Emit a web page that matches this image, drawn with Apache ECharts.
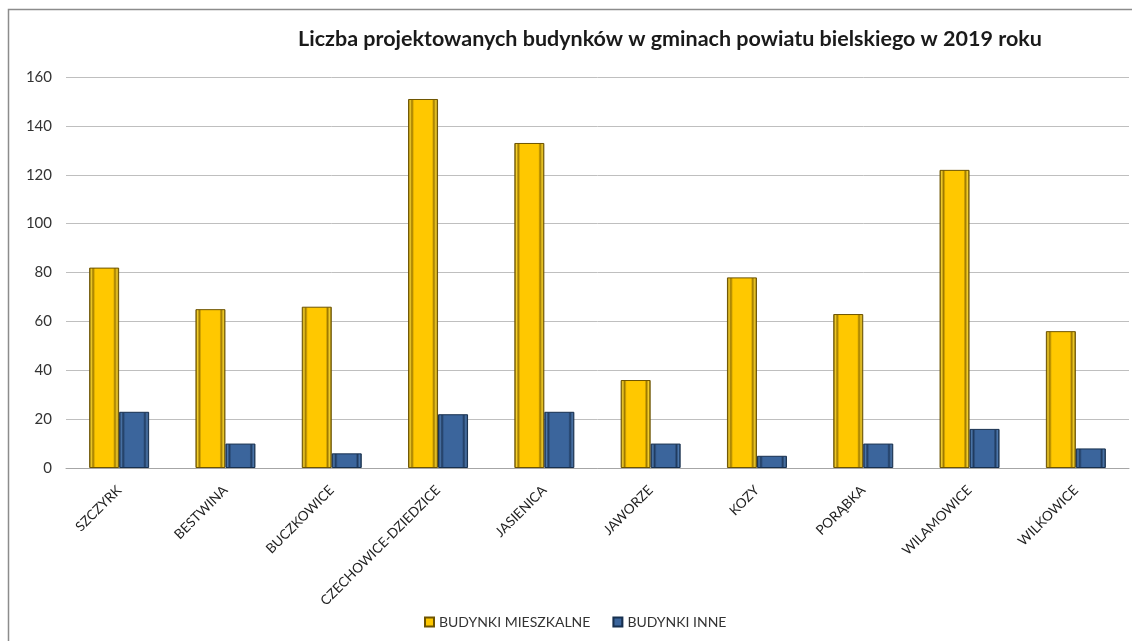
<!DOCTYPE html>
<html>
<head>
<meta charset="utf-8">
<script src="https://cdn.jsdelivr.net/npm/echarts@6/dist/echarts.min.js"></script>
<style>
html,body{margin:0;padding:0;background:#fff;overflow:hidden;}
#c{width:1132px;height:641px;}
</style>
</head>
<body>
<div id="c"></div>
<script>
const categories = ['SZCZYRK','BESTWINA','BUCZKOWICE','CZECHOWICE-DZIEDZICE','JASIENICA','JAWORZE','KOZY','PORĄBKA','WILAMOWICE','WILKOWICE'];
const mieszkalne = [82, 65, 66, 151, 133, 36, 78, 63, 122, 56];
const inne = [23, 10, 6, 22, 23, 10, 5, 10, 16, 8];
const seriesNames = ['BUDYNKI MIESZKALNE', 'BUDYNKI INNE'];
const yTicks = {min: 0, max: 160, interval: 20};
const titleText = 'Liczba projektowanych budynków w gminach powiatu bielskiego w 2019 roku';

function bevel(dark, mid, light, edge) {
  return new echarts.graphic.LinearGradient(0, 0, 1, 0, [
    {offset: 0, color: edge},
    {offset: 0.07, color: light},
    {offset: 0.13, color: dark},
    {offset: 0.2, color: mid},
    {offset: 0.8, color: mid},
    {offset: 0.86, color: dark},
    {offset: 0.93, color: light},
    {offset: 1, color: edge}
  ]);
}

const chart = echarts.init(document.getElementById('c'), null, {renderer: 'canvas'});
chart.setOption({
  animation: false,
  backgroundColor: '#ffffff',
  graphic: [{
    type: 'rect', left: 6, top: 7, z: -1,
    shape: {width: 1160, height: 660},
    style: {fill: 'none', stroke: '#8c8c8c', lineWidth: 1.5}
  }],
  title: {
    text: titleText,
    left: 665, top: 23, textAlign: 'center',
    textStyle: {fontFamily: 'Lato', fontWeight: 'bold', fontSize: 21.5, color: '#1a1a1a'}
  },
  legend: {
    data: seriesNames,
    left: 419, top: 610,
    itemWidth: 9, itemHeight: 9, itemGap: 22, icon: 'rect',
    textStyle: {fontFamily: 'Lato', fontSize: 14, color: '#333'}
  },
  grid: {left: 66, right: 3, top: 77, bottom: 173},
  xAxis: {
    type: 'category',
    data: categories,
    axisLine: {lineStyle: {color: '#a6a6a6', width: 1}},
    axisTick: {show: false},
    axisLabel: {rotate: 45, margin: 20, fontFamily: 'Lato', fontSize: 13.5, color: '#222', interval: 0}
  },
  yAxis: {
    type: 'value',
    min: yTicks.min, max: yTicks.max, interval: yTicks.interval,
    axisLine: {show: false},
    axisTick: {show: false},
    splitLine: {lineStyle: {color: '#bfbfbf', width: 1}},
    axisLabel: {margin: 14, fontFamily: 'Lato', fontSize: 15, color: '#333'}
  },
  series: [{
    name: seriesNames[0],
    type: 'bar',
    data: mieszkalne,
    barWidth: 30,
    barGap: '0%',
    itemStyle: {
      color: bevel('#9c7800', '#ffc800', '#f5cf2a', '#5e4800'),
      borderColor: '#6e5400', borderWidth: 1
    }
  }, {
    name: seriesNames[1],
    type: 'bar',
    data: inne,
    barWidth: 30,
    barGap: '0%',
    itemStyle: {
      color: bevel('#1f3a5e', '#3b659c', '#4d78ad', '#14263f'),
      borderColor: '#17304f', borderWidth: 1
    }
  }]
});
</script>
</body>
</html>
